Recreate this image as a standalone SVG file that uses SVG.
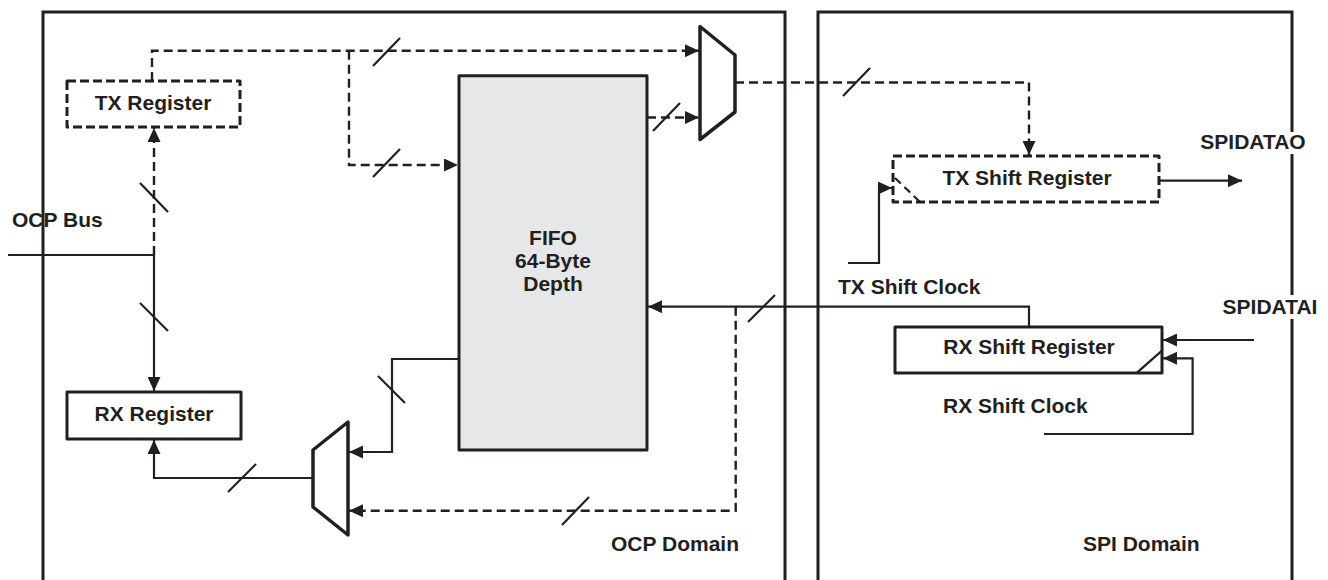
<svg xmlns="http://www.w3.org/2000/svg" width="1328" height="580" viewBox="0 0 1328 580">
<style>
text{font-family:"Liberation Sans",Arial,sans-serif;font-weight:bold;font-size:21px;fill:#231f20}
.mid{text-anchor:middle}
.dom{fill:none;stroke:#231f20;stroke-width:3}
.box{fill:#fff;stroke:#231f20;stroke-width:3;stroke-linejoin:round}
.dbox{fill:#fff;stroke:#231f20;stroke-width:3;stroke-dasharray:9 4;stroke-linejoin:round}
.fifo{fill:#e6e7e8;stroke:#231f20;stroke-width:3;stroke-linejoin:round}
.mux{fill:#fff;stroke:#231f20;stroke-width:3.5;stroke-linejoin:round}
.w{fill:none;stroke:#231f20;stroke-width:2.2}
.d{fill:none;stroke:#231f20;stroke-width:2.4;stroke-dasharray:9 5}
.s{fill:none;stroke:#231f20;stroke-width:2.2}
</style>
<defs>
<marker id="ah" markerUnits="userSpaceOnUse" markerWidth="15" markerHeight="13" refX="14" refY="6.5" orient="auto">
<polygon points="0,0 14,6.5 0,13" fill="#231f20"/>
</marker>
</defs>

<g id="ocp-domain">
<path class="dom" d="M43,582 V12 H785 V582"/>
<text x="611" y="551">OCP Domain</text>
</g>
<g id="spi-domain">
<path class="dom" d="M818,582 V12 H1292 V582"/>
<text x="1083" y="551">SPI Domain</text>
</g>

<g id="connectors">
<path class="d" d="M152,81 V50.7 H699" marker-end="url(#ah)"/>
<path class="d" d="M349,50.7 V165 H458" marker-end="url(#ah)"/>
<line class="s" x1="373" y1="66" x2="400" y2="38"/>
<line class="s" x1="373" y1="177" x2="400" y2="149"/>
<path class="w" d="M8,255 H154"/>
<path class="w" d="M154,255 V391" marker-end="url(#ah)"/>
<path class="d" d="M154,255 V128" marker-end="url(#ah)"/>
<line class="s" x1="140" y1="303" x2="168" y2="331"/>
<line class="s" x1="140" y1="183" x2="168" y2="212"/>
<path class="w" d="M460,359 H392 V452 H349" marker-end="url(#ah)"/>
<line class="s" x1="378" y1="376" x2="405" y2="403"/>
<path class="w" d="M313,478 H154 V440" marker-end="url(#ah)"/>
<line class="s" x1="228" y1="492" x2="256" y2="464"/>
<path class="d" d="M647,117.5 H699" marker-end="url(#ah)"/>
<line class="s" x1="653" y1="131" x2="680" y2="103"/>
<path class="d" d="M735,82.5 H1029 V155" marker-end="url(#ah)"/>
<line class="s" x1="843" y1="96" x2="870" y2="68"/>
<path class="w" d="M1029,327 V306.7 H648" marker-end="url(#ah)"/>
<path class="d" d="M735.7,306.7 V510.7 H349" marker-end="url(#ah)"/>
<line class="s" x1="748" y1="322" x2="775" y2="295"/>
<line class="s" x1="562" y1="525" x2="589" y2="497"/>
<path class="w" d="M848,263 H879 V188 H892" marker-end="url(#ah)"/>
<path class="w" d="M1159,180.7 H1242" marker-end="url(#ah)"/>
<path class="w" d="M1254,340 H1163" marker-end="url(#ah)"/>
<path class="w" d="M1044,434 H1192.6 V358.3 H1163" marker-end="url(#ah)"/>
</g>

<g id="tx-register">
<rect class="dbox" x="67" y="81" width="173" height="46"/>
<text class="mid" x="153" y="110">TX Register</text>
</g>
<g id="rx-register">
<rect class="box" x="67" y="392" width="174" height="47"/>
<text class="mid" x="154" y="421">RX Register</text>
</g>
<g id="ocp-bus">
<text x="12" y="227">OCP Bus</text>
</g>
<g id="fifo">
<rect class="fifo" x="459" y="75.7" width="188" height="374.3"/>
<text class="mid" x="553" y="245">FIFO</text>
<text class="mid" x="553" y="268">64-Byte</text>
<text class="mid" x="553" y="291">Depth</text>
</g>
<g id="tx-mux">
<polygon class="mux" points="700,26.5 735,55 735,112 700,139.5"/>
</g>
<g id="rx-mux">
<polygon class="mux" points="313,450 348,422 348,535 313,507"/>
</g>
<g id="tx-shift-register">
<rect class="dbox" x="893" y="156" width="266" height="46"/>
<line x1="895" y1="178" x2="920" y2="202" stroke="#231f20" stroke-width="2.2" stroke-dasharray="8 5"/>
<text class="mid" x="1027" y="185">TX Shift Register</text>
</g>
<g id="rx-shift-register">
<rect class="box" x="895" y="327" width="267" height="46"/>
<line class="s" x1="1137" y1="372.7" x2="1162" y2="350.7"/>
<text class="mid" x="1029" y="354">RX Shift Register</text>
</g>
<g id="tx-shift-clock">
<text x="838" y="294">TX Shift Clock</text>
</g>
<g id="rx-shift-clock">
<text x="943" y="413">RX Shift Clock</text>
</g>
<g id="spidatao">
<rect x="1284" y="132" width="16" height="22" fill="#fff"/>
<text class="mid" x="1253" y="149">SPIDATAO</text>
</g>
<g id="spidatai">
<rect x="1284" y="295" width="16" height="24" fill="#fff"/>
<text class="mid" x="1270" y="314">SPIDATAI</text>
</g>
</svg>
